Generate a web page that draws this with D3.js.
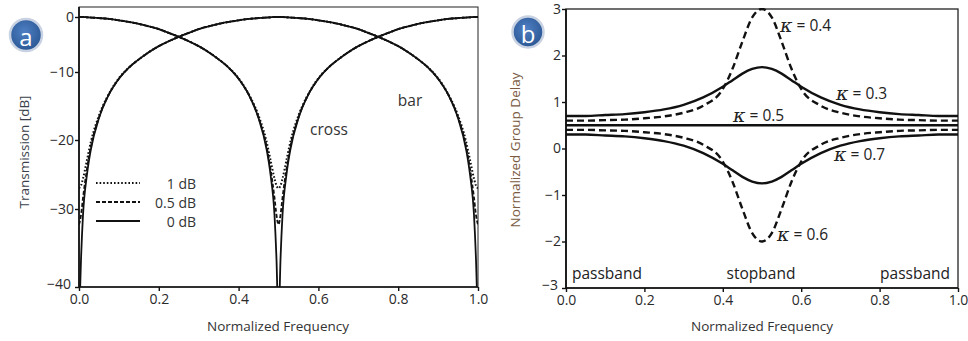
<!DOCTYPE html>
<html><head><meta charset="utf-8">
<script src="https://cdn.jsdelivr.net/npm/d3@7"></script>
<style>
html,body{margin:0;padding:0;background:#fff;}
svg{display:block;}
text{font-family:"Open Sans","Noto Sans",sans-serif;}
</style></head>
<body>
<svg id="chart" width="968" height="341"></svg>
<script>
// ---------- Panel a data ----------
const freqA = [0, 0.005, 0.01, 0.02, 0.03, 0.05, 0.075, 0.1, 0.125, 0.15, 0.175, 0.2, 0.225, 0.25, 0.275, 0.3, 0.325, 0.35, 0.375, 0.4, 0.425, 0.45, 0.47, 0.48, 0.49, 0.495, 0.5,
  0.505, 0.51, 0.52, 0.53, 0.55, 0.575, 0.6, 0.625, 0.65, 0.675, 0.7, 0.725, 0.75, 0.775, 0.8, 0.825, 0.85, 0.875, 0.9, 0.925, 0.95, 0.97, 0.98, 0.99, 0.995, 1.0];

const bar0 = [-45, -36.5, -30.8, -25.0, -21.3, -16.8, -13.3, -11.0, -9.2, -7.7, -6.4, -5.3, -4.4, -3.6, -2.9, -2.2, -1.7, -1.25, -0.9, -0.6, -0.35, -0.2, -0.1, -0.05, 0, 0, 0,
  0, 0, -0.05, -0.1, -0.2, -0.35, -0.6, -0.9, -1.25, -1.7, -2.2, -2.9, -3.6, -4.4, -5.3, -6.4, -7.7, -9.2, -11.0, -13.3, -16.8, -21.3, -25.0, -30.8, -36.5, -45];
const bar05 = [-32.0, -30.8, -28.4, -24.2, -20.9, -16.7, -13.3, -11.0, -9.2, -7.7, -6.4, -5.3, -4.4, -3.6, -2.9, -2.2, -1.7, -1.25, -0.9, -0.6, -0.35, -0.2, -0.1, -0.05, 0, 0, 0,
  0, 0, -0.05, -0.1, -0.2, -0.35, -0.6, -0.9, -1.25, -1.7, -2.2, -2.9, -3.6, -4.4, -5.3, -6.4, -7.7, -9.2, -11.0, -13.3, -16.7, -20.9, -24.2, -28.4, -30.8, -32.0];
const bar1 = [-27.0, -26.6, -25.6, -22.9, -20.2, -16.4, -13.2, -10.9, -9.2, -7.7, -6.4, -5.3, -4.4, -3.6, -2.9, -2.2, -1.7, -1.25, -0.9, -0.6, -0.35, -0.2, -0.1, -0.05, 0, 0, 0,
  0, 0, -0.05, -0.1, -0.2, -0.35, -0.6, -0.9, -1.25, -1.7, -2.2, -2.9, -3.6, -4.4, -5.3, -6.4, -7.7, -9.2, -10.9, -13.2, -16.4, -20.2, -22.9, -25.6, -26.6, -27.0];
const cross0 = [0, 0, 0, -0.05, -0.1, -0.2, -0.35, -0.6, -0.9, -1.25, -1.7, -2.2, -2.9, -3.6, -4.4, -5.3, -6.4, -7.7, -9.2, -11.0, -13.3, -16.8, -21.3, -25.0, -30.8, -36.5, -45,
  -36.5, -30.8, -25.0, -21.3, -16.8, -13.3, -11.0, -9.2, -7.7, -6.4, -5.3, -4.4, -3.6, -2.9, -2.2, -1.7, -1.25, -0.9, -0.6, -0.35, -0.2, -0.1, -0.05, 0, 0, 0];
const cross05 = [0, 0, 0, -0.05, -0.1, -0.2, -0.35, -0.6, -0.9, -1.25, -1.7, -2.2, -2.9, -3.6, -4.4, -5.3, -6.4, -7.7, -9.2, -11.0, -13.3, -16.7, -20.9, -24.2, -28.4, -30.8, -32.0,
  -30.8, -28.4, -24.2, -20.9, -16.7, -13.3, -11.0, -9.2, -7.7, -6.4, -5.3, -4.4, -3.6, -2.9, -2.2, -1.7, -1.25, -0.9, -0.6, -0.35, -0.2, -0.1, -0.05, 0, 0, 0];
const cross1 = [0, 0, 0, -0.05, -0.1, -0.2, -0.35, -0.6, -0.9, -1.25, -1.7, -2.2, -2.9, -3.6, -4.4, -5.3, -6.4, -7.7, -9.2, -10.9, -13.2, -16.4, -20.2, -22.9, -25.6, -26.6, -27.0,
  -26.6, -25.6, -22.9, -20.2, -16.4, -13.2, -10.9, -9.2, -7.7, -6.4, -5.3, -4.4, -3.6, -2.9, -2.2, -1.7, -1.25, -0.9, -0.6, -0.35, -0.2, -0.1, -0.05, 0, 0, 0];

const legendA = ["1 dB", "0.5 dB", "0 dB"];
const xTicksA = [0, 0.2, 0.4, 0.6, 0.8, 1.0];
const yTicksA = [0, -10, -20, -30, -40];

// ---------- Panel b data ----------
const freqB = [0, 0.05, 0.1, 0.15, 0.2, 0.25, 0.3, 0.35, 0.4, 0.425, 0.45, 0.475, 0.5, 0.525, 0.55, 0.575, 0.6, 0.65, 0.7, 0.75, 0.8, 0.85, 0.9, 0.95, 1.0];
const k03 = [0.70, 0.70, 0.72, 0.74, 0.78, 0.84, 0.94, 1.10, 1.33, 1.47, 1.61, 1.71, 1.75, 1.71, 1.61, 1.47, 1.33, 1.10, 0.94, 0.84, 0.78, 0.74, 0.72, 0.70, 0.70];
const k04 = [0.60, 0.60, 0.61, 0.62, 0.65, 0.69, 0.77, 0.92, 1.28, 1.72, 2.30, 2.82, 3.00, 2.82, 2.30, 1.72, 1.28, 0.92, 0.77, 0.69, 0.65, 0.62, 0.61, 0.60, 0.60];
const k05 = [0.5, 0.5, 0.5, 0.5, 0.5, 0.5, 0.5, 0.5, 0.5, 0.5, 0.5, 0.5, 0.5, 0.5, 0.5, 0.5, 0.5, 0.5, 0.5, 0.5, 0.5, 0.5, 0.5, 0.5, 0.5];
const k06 = [0.40, 0.40, 0.39, 0.38, 0.35, 0.31, 0.23, 0.08, -0.28, -0.72, -1.30, -1.82, -2.00, -1.82, -1.30, -0.72, -0.28, 0.08, 0.23, 0.31, 0.35, 0.38, 0.39, 0.40, 0.40];
const k07 = [0.30, 0.30, 0.28, 0.26, 0.22, 0.16, 0.06, -0.10, -0.33, -0.47, -0.61, -0.71, -0.75, -0.71, -0.61, -0.47, -0.33, -0.10, 0.06, 0.16, 0.22, 0.26, 0.28, 0.30, 0.30];
const xTicksB = [0, 0.2, 0.4, 0.6, 0.8, 1.0];
const yTicksB = [3, 2, 1, 0, -1, -2, -3];

// ---------- Drawing ----------
const svg = d3.select("#chart");
const defs = svg.append("defs");
const grad = defs.append("radialGradient").attr("id", "badge").attr("cx", "45%").attr("cy", "40%").attr("r", "60%");
grad.append("stop").attr("offset", "0%").attr("stop-color", "#4f80c4");
grad.append("stop").attr("offset", "100%").attr("stop-color", "#2b5794");

function badge(cx, cy, r, label) {
  svg.append("circle").attr("cx", cx).attr("cy", cy).attr("r", r)
    .attr("fill", "url(#badge)").attr("stroke", "#c8d2e2").attr("stroke-width", 2.5);
  svg.append("text").attr("x", cx).attr("y", cy + 1).attr("text-anchor", "middle")
    .attr("dominant-baseline", "central").attr("fill", "#fff")
    .attr("font-size", 24).text(label);
}

function styleAxis(g) {
  g.select(".domain").attr("stroke", "#111").attr("stroke-width", 1.7);
  g.selectAll(".tick line").attr("stroke", "#111").attr("stroke-width", 1.4);
  g.selectAll(".tick text").attr("fill", "#2a2a2a").attr("font-size", 14)
    .attr("font-family", "'Open Sans', sans-serif");
}

// Panel a
const xA = d3.scaleLinear().domain([0, 1]).range([79, 478]);
const yA = d3.scaleLinear().domain([2, 0, -10, -20, -30, -40]).range([7, 17, 72, 140, 209, 287]);

defs.append("clipPath").attr("id", "clipA").append("rect")
  .attr("x", 79).attr("y", 7).attr("width", 399).attr("height", 280);

svg.append("rect").attr("x", 79).attr("y", 7).attr("width", 399).attr("height", 280)
  .attr("fill", "none").attr("stroke", "#222").attr("stroke-width", 1);

const gA = svg.append("g").attr("clip-path", "url(#clipA)");
const lineA = arr => d3.line().x((d, i) => xA(freqA[i])).y(d => yA(d)).curve(d3.curveMonotoneX)(arr);
const stylesA = [
  { dash: "1.6,2", w: 2 },
  { dash: "4,2", w: 1.8 },
  { dash: null, w: 1.8 }
];
[[cross1, bar1], [cross05, bar05], [cross0, bar0]].forEach((pair, k) => {
  pair.forEach(arr => {
    gA.append("path").attr("d", lineA(arr)).attr("fill", "none")
      .attr("stroke", "#111").attr("stroke-width", stylesA[k].w)
      .attr("stroke-dasharray", stylesA[k].dash);
  });
});

const axA_x = svg.append("g").attr("transform", "translate(0,287)")
  .call(d3.axisBottom(xA).tickValues(xTicksA).tickFormat(d3.format(".1f")).tickSize(4).tickPadding(3));
const axA_y = svg.append("g").attr("transform", "translate(79,0)")
  .call(d3.axisLeft(yA).tickValues(yTicksA).tickFormat(d3.format("d")).tickSize(4).tickPadding(1));
styleAxis(axA_x); styleAxis(axA_y);
axA_y.selectAll(".domain").attr("d", "M0,7V287");
axA_x.selectAll(".domain").attr("d", "M79,0H478");
axA_y.selectAll(".tick text").filter(d => d === -40).attr("dy", "0.1em").attr("dx", "-3");

// legend a
const legY = [183, 202, 221];
legendA.forEach((t, i) => {
  svg.append("line").attr("x1", 96).attr("x2", 140).attr("y1", legY[i]).attr("y2", legY[i])
    .attr("stroke", "#111").attr("stroke-width", 1.8).attr("stroke-dasharray", stylesA[i].dash);
  svg.append("text").attr("x", 196).attr("y", legY[i]).attr("text-anchor", "end")
    .attr("dominant-baseline", "central").attr("font-size", 14).attr("fill", "#333").text(t);
});
svg.append("text").attr("x", 329).attr("y", 129).attr("text-anchor", "middle")
  .attr("dominant-baseline", "central").attr("font-size", 15.5).attr("fill", "#333").text("cross");
svg.append("text").attr("x", 410).attr("y", 100).attr("text-anchor", "middle")
  .attr("dominant-baseline", "central").attr("font-size", 15.5).attr("fill", "#333").text("bar");

svg.append("text").attr("transform", "translate(24,152) rotate(-90)").attr("text-anchor", "middle")
  .attr("dominant-baseline", "central").attr("font-size", 13.5).attr("fill", "#3a3f4a").text("Transmission [dB]");
svg.append("text").attr("x", 278).attr("y", 326).attr("text-anchor", "middle")
  .attr("dominant-baseline", "central").attr("font-size", 13.5).attr("fill", "#333").text("Normalized Frequency");

badge(26, 35, 16, "a");

// Panel b
const xB = d3.scaleLinear().domain([0, 1]).range([566, 958]);
const yB = d3.scaleLinear().domain([-3, 3]).range([288, 9]);
defs.append("clipPath").attr("id", "clipB").append("rect")
  .attr("x", 566).attr("y", 8).attr("width", 392).attr("height", 281);
svg.append("rect").attr("x", 566).attr("y", 9).attr("width", 392).attr("height", 279)
  .attr("fill", "none").attr("stroke", "#222").attr("stroke-width", 1.3);

const gB = svg.append("g").attr("clip-path", "url(#clipB)");
const lineB = arr => d3.line().x((d, i) => xB(freqB[i])).y(d => yB(d)).curve(d3.curveMonotoneX)(arr);
[[k05, null], [k03, null], [k07, null], [k04, "7,4"], [k06, "7,4"]].forEach(([arr, dash]) => {
  gB.append("path").attr("d", lineB(arr)).attr("fill", "none")
    .attr("stroke", "#111").attr("stroke-width", 2.4).attr("stroke-dasharray", dash);
});

const axB_x = svg.append("g").attr("transform", "translate(0,288)")
  .call(d3.axisBottom(xB).tickValues(xTicksB).tickFormat(d3.format(".1f")).tickSize(4).tickPadding(3));
const axB_y = svg.append("g").attr("transform", "translate(566,0)")
  .call(d3.axisLeft(yB).tickValues(yTicksB).tickFormat(d3.format("d")).tickSize(4).tickPadding(1));
styleAxis(axB_x); styleAxis(axB_y);
axB_y.selectAll(".domain").attr("d", "M0,9V288");
axB_x.selectAll(".domain").attr("d", "M566,0H958");
axB_y.selectAll(".tick text").filter(d => d === -3).attr("dy", "0.1em").attr("dx", "-3");

function kLabel(x, y, val) {
  const t = svg.append("text").attr("x", x).attr("y", y).attr("dominant-baseline", "central")
    .attr("font-size", 15.5).attr("fill", "#222");
  t.append("tspan").attr("font-style", "italic").attr("font-size", 19).attr("font-family", "'DejaVu Serif', serif").text("κ");
  t.append("tspan").text(" = " + val);
}
kLabel(780, 25, "0.4");
kLabel(836, 93, "0.3");
kLabel(733, 115, "0.5");
kLabel(834, 154, "0.7");
kLabel(777, 234, "0.6");

svg.append("text").attr("x", 572).attr("y", 273).attr("dominant-baseline", "central")
  .attr("font-size", 15.5).attr("fill", "#222").text("passband");
svg.append("text").attr("x", 761).attr("y", 273).attr("text-anchor", "middle").attr("dominant-baseline", "central")
  .attr("font-size", 15.5).attr("fill", "#222").text("stopband");
svg.append("text").attr("x", 950).attr("y", 273).attr("text-anchor", "end").attr("dominant-baseline", "central")
  .attr("font-size", 15.5).attr("fill", "#222").text("passband");

svg.append("text").attr("transform", "translate(515,150) rotate(-90)").attr("text-anchor", "middle")
  .attr("dominant-baseline", "central").attr("font-size", 13.5).attr("fill", "#7a5a42").text("Normalized Group Delay");
svg.append("text").attr("x", 762).attr("y", 326).attr("text-anchor", "middle")
  .attr("dominant-baseline", "central").attr("font-size", 13.5).attr("fill", "#333").text("Normalized Frequency");

badge(528, 32, 15.5, "b");
</script>
</body></html>
